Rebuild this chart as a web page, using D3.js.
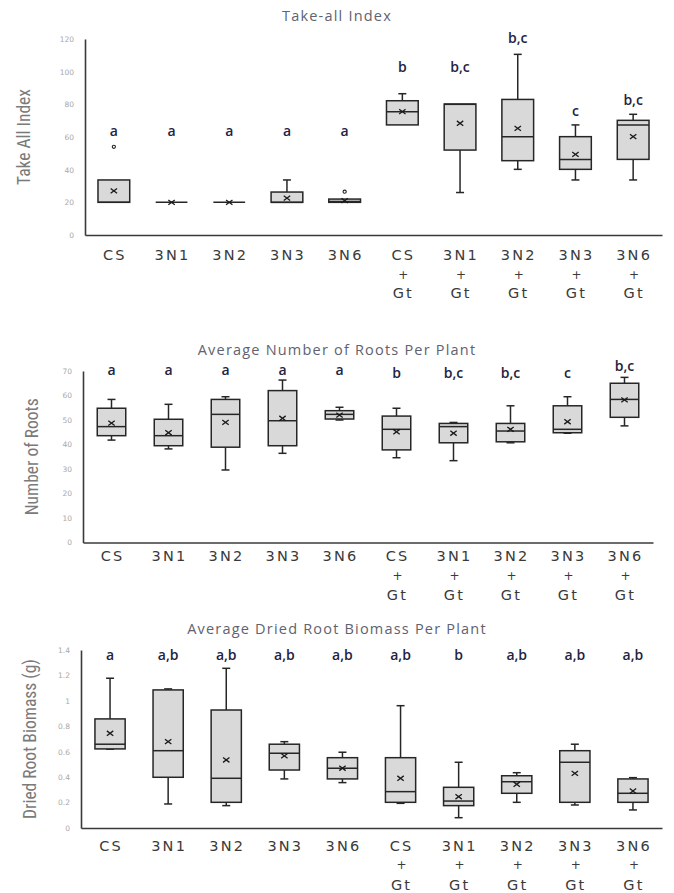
<!DOCTYPE html>
<html><head><meta charset="utf-8">
<script src="https://cdn.jsdelivr.net/npm/d3@7"></script>
<style>
html,body{margin:0;padding:0;background:#fff;}
svg{display:block;}
</style></head>
<body>
<svg id="chart" width="674" height="893"></svg>
<script>
// ---------- DATA ----------
const categories = ["CS","3N1","3N2","3N3","3N6","CS+Gt","3N1+Gt","3N2+Gt","3N3+Gt","3N6+Gt"];

// Panel 1: Take-all Index
const takeAllMin    = [20, 20, 20, 20, 20, 67.4, 26, 40.2, 33.7, 33.7];
const takeAllQ1     = [20, 20, 20, 20, 20, 67.4, 52, 45.5, 40.2, 46.3];
const takeAllMedian = [20, 20, 20, 20, 20.5, 75.5, 80, 60.2, 46.3, 67.4];
const takeAllQ3     = [33.7, 20, 20, 26.3, 22, 82.2, 80.2, 83, 60.2, 70.2];
const takeAllMax    = [33.7, 20, 20, 33.7, 22, 86.5, 80.2, 110.6, 67.4, 73.9];
const takeAllMean   = [27, 20, 20, 22.6, 21, 75.5, 68.4, 65.3, 49.4, 60.2];
const takeAllOutliers = [[54], [], [], [], [26.5], [], [], [], [], []];
const takeAllLetters = ["a","a","a","a","a","b","b,c","b,c","c","b,c"];
const takeAllLetterAt = [60.6, 60.6, 60.6, 60.6, 60.6, 99.8, 99.8, 117.6, 72.9, 79.6];
const takeAllTicks = [0, 20, 40, 60, 80, 100, 120];

// Panel 2: Average Number of Roots Per Plant
const rootsMin    = [41.8, 38.2, 29.6, 36.4, 50, 34.6, 33.4, 40.7, 44.6, 47.6];
const rootsQ1     = [43.6, 39.5, 38.9, 39.5, 50.4, 37.8, 40.7, 41.1, 44.8, 51.1];
const rootsMedian = [47.3, 43.6, 52.3, 49.7, 52.3, 46.2, 47.3, 45.5, 46.2, 58.4];
const rootsQ3     = [54.8, 50.3, 58.4, 62, 53.8, 51.6, 48.6, 48.6, 55.8, 65];
const rootsMax    = [58.4, 56.4, 59.5, 66.3, 55.2, 54.8, 49, 55.8, 59.5, 67.4];
const rootsMean   = [48.7, 44.8, 49, 50.7, 52, 45.2, 44.6, 46.2, 49.3, 58.2];
const rootsOutliers = [[], [], [], [], [], [], [], [], [], []];
const rootsLetters = ["a","a","a","a","a","b","b,c","b,c","c","b,c"];
const rootsLetterAt = [68.4, 68.4, 68.4, 68.4, 68.4, 67.1, 67.1, 67.1, 67.1, 70];
const rootsTicks = [0, 10, 20, 30, 40, 50, 60, 70];

// Panel 3: Average Dried Root Biomass Per Plant
const biomassMin    = [0.62, 0.189, 0.176, 0.386, 0.357, 0.194, 0.081, 0.202, 0.181, 0.142];
const biomassQ1     = [0.622, 0.399, 0.202, 0.456, 0.386, 0.202, 0.176, 0.273, 0.202, 0.202];
const biomassMedian = [0.659, 0.608, 0.391, 0.588, 0.47, 0.286, 0.212, 0.364, 0.517, 0.273];
const biomassQ3     = [0.858, 1.086, 0.928, 0.659, 0.553, 0.553, 0.32, 0.411, 0.608, 0.386];
const biomassMax    = [1.178, 1.094, 1.256, 0.679, 0.596, 0.962, 0.517, 0.435, 0.659, 0.396];
const biomassMean   = [0.745, 0.679, 0.535, 0.567, 0.47, 0.391, 0.246, 0.344, 0.43, 0.291];
const biomassOutliers = [[], [], [], [], [], [], [], [], [], []];
const biomassLetters = ["a","a,b","a,b","a,b","a,b","a,b","b","a,b","a,b","a,b"];
const biomassLetterAt = [1.32, 1.32, 1.32, 1.32, 1.32, 1.32, 1.32, 1.32, 1.32, 1.32];
const biomassTicks = [0, 0.2, 0.4, 0.6, 0.8, 1, 1.2, 1.4];

const titles = ["Take-all Index", "Average Number of Roots Per Plant", "Average Dried Root Biomass Per Plant"];
const yTitles = ["Take All Index", "Number of Roots", "Dried Root Biomass  (g)"];

// ---------- LAYOUT ----------
const panels = [
  {title: titles[0], yTitle: yTitles[0], min: takeAllMin, q1: takeAllQ1, med: takeAllMedian, q3: takeAllQ3, max: takeAllMax,
   mean: takeAllMean, out: takeAllOutliers, letters: takeAllLetters, letterAt: takeAllLetterAt, ticks: takeAllTicks,
   domain: [0, 120], x0: 85, x1: 662, yTop: 39, yBot: 235, titleY: 21, yTitleX: 25, boxFrac: 0.55,
   labY: [260, 279, 298]},
  {title: titles[1], yTitle: yTitles[1], min: rootsMin, q1: rootsQ1, med: rootsMedian, q3: rootsQ3, max: rootsMax,
   mean: rootsMean, out: rootsOutliers, letters: rootsLetters, letterAt: rootsLetterAt, ticks: rootsTicks,
   domain: [0, 70], x0: 83, x1: 653, yTop: 371, yBot: 542.5, titleY: 355, yTitleX: 33, boxFrac: 0.5,
   labY: [561, 580, 600]},
  {title: titles[2], yTitle: yTitles[2], min: biomassMin, q1: biomassQ1, med: biomassMedian, q3: biomassQ3, max: biomassMax,
   mean: biomassMean, out: biomassOutliers, letters: biomassLetters, letterAt: biomassLetterAt, ticks: biomassTicks,
   domain: [0, 1.4], x0: 81, x1: 662, yTop: 650, yBot: 828, titleY: 634, yTitleX: 31, boxFrac: 0.52,
   labY: [851, 869, 890]}
];

const svg = d3.select("#chart");
const axisColor = "#3a3a3a";
const boxStroke = "#262626";
const boxFill = "#d9d9d9";

panels.forEach(p => {
  const g = svg.append("g");
  const x = d3.scaleBand().domain(categories).range([p.x0, p.x1]).paddingInner(0).paddingOuter(0);
  const y = d3.scaleLinear().domain(p.domain).range([p.yBot, p.yTop]);
  const bw = x.bandwidth() * p.boxFrac;
  const cx = c => x(c) + x.bandwidth() / 2;

  // Title
  g.append("text").attr("x", 337).attr("y", p.titleY).attr("text-anchor", "middle")
    .attr("font-family", "'Open Sans', 'Noto Sans', sans-serif").attr("font-size", 14.5)
    .attr("letter-spacing", 1.2).attr("fill", "#5f6270").text(p.title);

  // Y axis with labels only
  const yAxis = d3.axisLeft(y).tickValues(p.ticks).tickSize(0).tickPadding(11)
    .tickFormat(d => d3.format("~g")(d));
  const ya = g.append("g").attr("transform", `translate(${p.x0},0)`).call(yAxis);
  ya.select(".domain").attr("stroke", axisColor).attr("stroke-width", 1.6);
  ya.selectAll("text").attr("font-family", "'DejaVu Sans', sans-serif").attr("font-size", 7.5)
    .attr("fill", "#a8a8a8");

  // X axis line
  const xAxis = d3.axisBottom(x).tickSize(0).tickFormat("");
  const xa = g.append("g").attr("transform", `translate(0,${p.yBot})`).call(xAxis);
  xa.select(".domain").attr("stroke", axisColor).attr("stroke-width", 1.6);

  // Y title
  g.append("text").attr("transform", `translate(${p.yTitleX},${(p.yTop + p.yBot) / 2}) rotate(-90)`)
    .attr("text-anchor", "middle").attr("dominant-baseline", "middle")
    .attr("font-family", "'Liberation Sans Narrow', 'Roboto Condensed', 'DejaVu Sans Condensed', sans-serif")
    .attr("font-stretch", "condensed").attr("font-size", 17.5).attr("fill", "#7a7a7a").text(p.yTitle);

  // X labels (multi-line)
  categories.forEach(c => {
    const parts = c.includes("+") ? [c.split("+")[0], "+", c.split("+")[1]] : [c];
    parts.forEach((t, i) => {
      g.append("text").attr("x", cx(c) + 1).attr("y", p.labY[i]).attr("text-anchor", "middle")
        .attr("font-family", "'DejaVu Sans', sans-serif").attr("font-size", t === "+" ? 12 : 14.5)
        .attr("letter-spacing", t === "+" ? 0 : 2.2).attr("fill", "#3a3a3a").text(t);
    });
  });

  const boxes = g.append("g").selectAll("g").data(categories).join("g");
  boxes.each(function(c, i) {
    const b = d3.select(this);
    const xc = cx(c);
    const capW = 8;
    // whiskers
    b.append("line").attr("x1", xc).attr("x2", xc).attr("y1", y(p.q3[i])).attr("y2", y(p.max[i]))
      .attr("stroke", boxStroke).attr("stroke-width", 1.5);
    b.append("line").attr("x1", xc).attr("x2", xc).attr("y1", y(p.q1[i])).attr("y2", y(p.min[i]))
      .attr("stroke", boxStroke).attr("stroke-width", 1.5);
    if (p.max[i] > p.q3[i]) {
      b.append("line").attr("x1", xc - capW / 2).attr("x2", xc + capW / 2).attr("y1", y(p.max[i])).attr("y2", y(p.max[i]))
        .attr("stroke", boxStroke).attr("stroke-width", 1.5);
    }
    if (p.min[i] < p.q1[i]) {
      b.append("line").attr("x1", xc - capW / 2).attr("x2", xc + capW / 2).attr("y1", y(p.min[i])).attr("y2", y(p.min[i]))
        .attr("stroke", boxStroke).attr("stroke-width", 1.5);
    }
    // box
    b.append("rect").attr("x", xc - bw / 2).attr("width", bw)
      .attr("y", y(p.q3[i])).attr("height", Math.max(0, y(p.q1[i]) - y(p.q3[i])))
      .attr("fill", boxFill).attr("stroke", boxStroke).attr("stroke-width", 1.5);
    // median
    b.append("line").attr("x1", xc - bw / 2).attr("x2", xc + bw / 2).attr("y1", y(p.med[i])).attr("y2", y(p.med[i]))
      .attr("stroke", boxStroke).attr("stroke-width", 1.5);
    // mean x
    const m = y(p.mean[i]), s = 3.2;
    b.append("path").attr("d", `M${xc - s},${m - s * 0.75}L${xc + s},${m + s * 0.75}M${xc - s},${m + s * 0.75}L${xc + s},${m - s * 0.75}`)
      .attr("stroke", "#1a1a1a").attr("stroke-width", 1.3).attr("fill", "none");
    // outliers
    p.out[i].forEach(o => {
      b.append("circle").attr("cx", xc).attr("cy", y(o)).attr("r", 1.6)
        .attr("fill", "#fff").attr("stroke", "#222").attr("stroke-width", 1.1);
    });
    // significance letters
    b.append("text").attr("x", xc).attr("y", y(p.letterAt[i])).attr("text-anchor", "middle")
      .attr("font-family", "'Open Sans', 'DejaVu Sans', sans-serif").attr("font-size", 14)
      .attr("font-weight", 600).attr("fill", "#23233f").text(p.letters[i]);
  });
});
</script>
</body></html>
